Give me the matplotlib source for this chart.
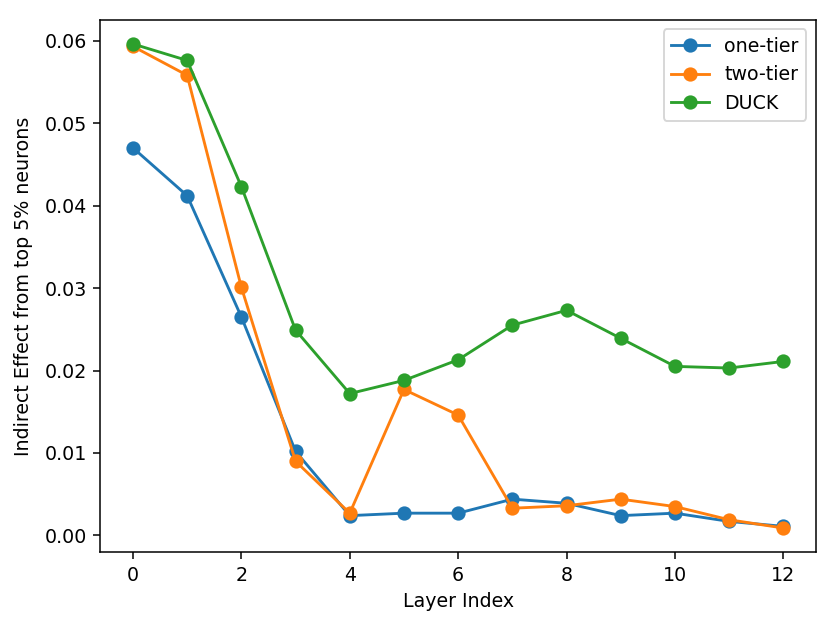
import matplotlib
matplotlib.use("Agg")
import matplotlib.pyplot as plt

# layer indices and the indirect effect per method
layers = list(range(13))
one_tier = [0.0470, 0.0412, 0.0265, 0.0102, 0.0024, 0.0027, 0.0027,
            0.0044, 0.0039, 0.0024, 0.0027, 0.0017, 0.0011]
two_tier = [0.0593, 0.0558, 0.0301, 0.0090, 0.0027, 0.0177, 0.0146,
            0.0033, 0.0036, 0.0044, 0.0035, 0.0019, 0.0009]
duck = [0.0596, 0.0576, 0.0423, 0.0249, 0.0172, 0.0188, 0.0213,
        0.0255, 0.0273, 0.0239, 0.0205, 0.0203, 0.0211]

dpi = 137
fig = plt.figure(figsize=(830 / dpi, 617 / dpi), dpi=dpi)
ax = fig.add_axes([0.121, 0.105, 0.862, 0.863])

ax.plot(layers, one_tier, marker='o', markersize=6.5, label='one-tier')
ax.plot(layers, two_tier, marker='o', markersize=6.5, label='two-tier')
ax.plot(layers, duck, marker='o', markersize=6.5, label='DUCK')

ax.set_xlabel('Layer Index')
ax.set_ylabel('Indirect Effect from top 5% neurons', labelpad=6)
ax.legend()

fig.savefig('out.png', dpi=dpi)
